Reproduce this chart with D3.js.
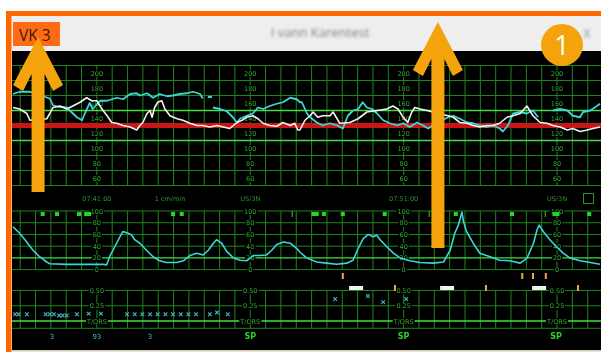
<!DOCTYPE html>
<html>
<head>
<meta charset="utf-8">
<script src="https://cdn.jsdelivr.net/npm/d3@7"></script>
<style>
  body { margin: 0; background: #fff; }
  svg { display: block; }
</style>
</head>
<body>
<svg id="chart" width="601" height="354"></svg>
<script>
// ---- data (time = seconds after 07:41:00) ----
// fetal heart rate, cyan channel (null = gap)
var fhrCyan = [
  [-164,172],[-151,175],[-131,175],[-92,166],[-86,157],[-76,155],[-59,154],[-53,150],[-39,141],[-29,137],
  [-23,147],[-14,160],[-8,152],[6,163],[20,163],[39,167],[51,165],[65,172],[78,173],[84,170],[98,173],
  [110,167],[123,172],[137,169],[149,170],[162,172],[176,173],[188,175],[202,172],[207,166],[210,null],
  [217,168],[225,168],[226,null],
  [227,154],[241,152],[254,149],[266,141],[274,134],[280,139],[293,143],[305,146],[315,154],[325,152],
  [338,156],[352,159],[364,161],[378,167],[391,165],[397,161],[401,161],[411,146],[417,141],[430,134],
  [442,130],[456,133],[470,130],[481,126],[491,143],[501,150],[511,152],[520,161],[528,154],[538,152],
  [548,146],[560,137],[573,133],[587,130],[599,133],[612,128],[626,134],[638,130],[648,126],[667,134],
  [687,141],[697,143],[710,139],[724,134],[736,133],[749,130],[763,128],[775,130],[788,126],[794,122],
  [804,130],[814,146],[828,148],[841,146],[853,150],[863,141],[878,null],
  [892,150],[906,152],[920,150],[931,143],[945,141],[951,148],[965,150],[978,156],[984,159]
];
// fetal heart rate, white channel
var fhrWhite = [
  [-164,154],[-151,152],[-137,146],[-131,137],[-115,138],[-98,139],[-92,146],[-86,154],[-72,156],[-59,152],
  [-47,156],[-33,161],[-20,167],[-10,163],[0,163],[6,156],[12,150],[20,143],[29,134],[39,133],[51,130],
  [65,128],[78,124],[84,130],[90,134],[98,146],[104,150],[108,141],[113,154],[119,161],[127,163],[133,152],
  [143,143],[157,139],[168,137],[182,133],[196,130],[207,130],[221,128],[235,130],[247,128],[260,126],
  [274,134],[284,137],[293,141],[305,143],[315,139],[325,133],[338,130],[352,129],[364,134],[378,130],
  [387,133],[393,124],[397,124],[407,137],[417,143],[423,148],[432,141],[442,143],[456,143],[462,148],
  [475,133],[495,134],[511,139],[528,148],[548,150],[567,152],[579,156],[589,152],[599,141],[608,134],
  [616,148],[622,154],[632,152],[646,150],[667,146],[687,143],[697,141],[710,134],[724,133],[736,130],
  [749,128],[763,130],[775,130],[788,133],[802,141],[814,143],[828,146],[841,156],[853,143],[867,134],
  [880,133],[892,130],[906,128],[920,124],[931,126],[945,122],[959,124],[970,126],[984,128]
];
var baselineBpm = 130;
// uterine activity (toco)
var tocoTrace = [
  [-164,73],[-151,62],[-138,48],[-125,33],[-112,22],[-98,13],[-92,10],[-59,9],[12,9],[19,8],[25,22],
  [35,39],[45,56],[51,65],[61,62],[68,59],[74,51],[84,45],[97,33],[110,22],[123,15],[136,12],[156,12],
  [169,15],[182,24],[195,28],[208,25],[218,33],[228,45],[234,51],[244,45],[254,31],[267,20],[280,16],
  [293,15],[306,24],[319,24],[332,25],[342,33],[352,43],[365,47],[378,45],[391,36],[397,30],[410,20],
  [430,13],[449,11],[469,9],[489,11],[501,16],[511,36],[521,53],[531,60],[541,56],[547,59],[554,51],
  [567,39],[580,28],[593,20],[612,15],[632,12],[658,11],[678,13],[691,33],[700,62],[707,76],[714,98],
  [717,82],[723,65],[736,45],[749,28],[769,22],[788,16],[808,15],[828,11],[841,19],[854,45],[861,68],
  [865,76],[873,65],[886,51],[899,39],[912,28],[925,20],[945,15],[965,12],[984,9]
];
// T/QRS events
var stPoints = [
  [-160,0.11],[-153,0.11],[-137,0.11],[-100,0.11],[-92,0.11],[-84,0.11],[-74,0.09],[-67,0.09],[-59,0.09],
  [-39,0.11],[-16,0.12],[8,0.12],[59,0.11],[74,0.11],[89,0.11],[104,0.11],[119,0.11],[134,0.11],[149,0.11],
  [164,0.11],[179,0.11],[194,0.11],[221,0.11],[235,0.14],[256,0.11],
  [466,0.36],[530,0.41],[560,0.31],[605,0.36]
];
var bottomCodes = [
  {t:-88, text:"3", kind:"st"}, {t:0, text:"93", kind:"st"}, {t:104, text:"3", kind:"st"},
  {t:300, text:"SP", kind:"sp"}, {t:600, text:"SP", kind:"sp"}, {t:898, text:"SP", kind:"sp"}
];
var movementMarks = [-106,-78,-35,149,166,444,481,563,702,812,963];
var movementLong = [-18,427,898];
var movementTicks = [382,650,877];
var eventTicksUpper = [481,832,853,878];
var eventTicksLower = [583,761,941];
var noteBoxes = [507,685,865];

var fhrTicks = [200,180,160,140,120,100,80,60];
var fhrGrid = [50,70,90,110,130,150,170,190,210];
var fhrNormal = [110,150];
var tocoTicks = [100,80,60,40,20,0];
var tocoBright = 20;
var stTicks = [0.5,0.25,0];
var stGrid = [-0.12,0.25,0.5];
var labelTimes = [0,300,600,900];
var timeLabels = [
  {t:0, text:"07:41:00"}, {t:143, text:"1 cm/min"}, {t:300, text:"US/3N"},
  {t:600, text:"07:51:00"}, {t:900, text:"US/3N"}
];
var arrows = [{t:-115, tip:37, bottom:192}, {t:667, tip:22, bottom:248}];

// ---- setup ----
var svg = d3.select("#chart");
var orange = "#ff6600", gold = "#f4a30c";
var gridDim = "#1d861d", gridBright = "#44dc44", labelColor = "#2fae2f";
var cyan = "#3ad6d6";

var x = d3.scaleLinear().domain([-166, 986]).range([12, 601]);
var yFhr = d3.scaleLinear().domain([50, 210]).range([185.5, 65.5]);
var yToco = d3.scaleLinear().domain([0, 100]).range([269.6, 211]);
var ySt = d3.scaleLinear().domain([-0.12, 0.5]).range([328.3, 290.5]);
var gridTimes = d3.range(-150, 961, 30);

var defs = svg.append("defs");
defs.append("filter").attr("id", "blur")
  .append("feGaussianBlur").attr("stdDeviation", 1.8);
defs.append("filter").attr("id", "soft")
  .append("feGaussianBlur").attr("stdDeviation", 0.35);

// window frame
svg.append("rect").attr("x", 12).attr("y", 16).attr("width", 589).attr("height", 35).attr("fill", "#eeeeee");
svg.append("rect").attr("x", 12).attr("y", 51).attr("width", 589).attr("height", 299).attr("fill", "#000");
svg.append("rect").attr("x", 12).attr("y", 350).attr("width", 589).attr("height", 1.5).attr("fill", "#d9cbb5");
svg.append("rect").attr("x", 6).attr("y", 11).attr("width", 595).attr("height", 5).attr("fill", orange);
svg.append("rect").attr("x", 6).attr("y", 11).attr("width", 5.5).attr("height", 341).attr("fill", orange);

svg.append("text").attr("x", 320).attr("y", 37).attr("text-anchor", "middle")
  .attr("font-family", "Open Sans").attr("font-size", 13).attr("fill", "#808080")
  .attr("filter", "url(#blur)").text("I vann Karentest");
svg.append("text").attr("x", 587).attr("y", 38).attr("text-anchor", "middle")
  .attr("font-family", "Open Sans").attr("font-size", 12).attr("fill", "#8a8a8a")
  .attr("filter", "url(#blur)").text("X");

svg.append("rect").attr("x", 13).attr("y", 22).attr("width", 47).attr("height", 24).attr("fill", "#ff6a16");
svg.append("text").attr("x", 19).attr("y", 40.5).attr("font-family", "Open Sans")
  .attr("font-size", 15.5).attr("fill", "#3a1a08").text("VK 3");

var plot = svg.append("g").attr("filter", "url(#soft)");

// ---- grids ----
function vLines(y0, y1) {
  plot.append("g").selectAll("line").data(gridTimes).enter().append("line")
    .attr("x1", function(d) { return x(d); }).attr("x2", function(d) { return x(d); })
    .attr("y1", y0).attr("y2", y1)
    .attr("stroke", gridDim).attr("stroke-width", 1);
}
function hLines(values, scale, bright) {
  plot.append("g").selectAll("line").data(values).enter().append("line")
    .attr("x1", 12).attr("x2", 601)
    .attr("y1", function(d) { return scale(d); }).attr("y2", function(d) { return scale(d); })
    .attr("stroke", function(d) { return bright.indexOf(d) >= 0 ? gridBright : gridDim; })
    .attr("stroke-width", function(d) { return bright.indexOf(d) >= 0 ? 1.4 : 1; });
}

vLines(yFhr(210), yFhr(50));
hLines(fhrGrid, yFhr, fhrNormal);
vLines(yToco(100), yToco(0));
hLines(tocoTicks, yToco, [tocoBright]);
vLines(ySt(0.5), ySt(-0.12));
hLines(stGrid.concat([0]), ySt, [0]);

// scale labels on every 5-minute column, built from d3 axes
function labelColumns(scale, ticks, fmt) {
  labelTimes.forEach(function(t) {
    var col = plot.append("g")
      .attr("transform", "translate(" + x(t) + ",0)")
      .call(d3.axisRight(scale).tickValues(ticks).tickSize(0).tickPadding(0).tickFormat(fmt));
    col.attr("font-size", 6.5).attr("font-family", "DejaVu Sans");
    col.select(".domain").remove();
    col.selectAll(".tick text").attr("x", 0).attr("text-anchor", "middle").attr("fill", labelColor);
    col.selectAll(".tick").each(function() {
      var tk = d3.select(this);
      var w = tk.select("text").node().getComputedTextLength();
      tk.insert("rect", "text").attr("x", -w / 2 - 1).attr("y", -3.5)
        .attr("width", w + 2).attr("height", 7).attr("fill", "#000");
    });
  });
}
labelColumns(yFhr, fhrTicks, d3.format("d"));
labelColumns(yToco, tocoTicks, d3.format("d"));
labelColumns(ySt, stTicks, function(d) { return d === 0 ? "T/QRS" : d3.format(".2f")(d); });

// time row
plot.append("g").selectAll("text").data(timeLabels).enter().append("text")
  .attr("x", function(d) { return x(d.t); }).attr("y", 200.5)
  .attr("text-anchor", "middle").attr("font-family", "DejaVu Sans").attr("font-size", 6.5)
  .attr("fill", "#289628").text(function(d) { return d.text; });
plot.append("rect").attr("x", 583.5).attr("y", 193.5).attr("width", 10).attr("height", 10)
  .attr("fill", "none").attr("stroke", "#2a8f2a");

// ---- FHR ----
plot.append("line").attr("x1", 12).attr("x2", 601)
  .attr("y1", yFhr(baselineBpm)).attr("y2", yFhr(baselineBpm))
  .attr("stroke", "#c81616").attr("stroke-width", 5);

var fhrLine = d3.line()
  .defined(function(d) { return d[1] != null; })
  .x(function(d) { return x(d[0]); })
  .y(function(d) { return yFhr(d[1]); });

plot.append("path").datum(fhrCyan).attr("d", fhrLine)
  .attr("fill", "none").attr("stroke", cyan).attr("stroke-width", 1.8).attr("stroke-linejoin", "round");
plot.append("path").datum(fhrWhite).attr("d", fhrLine)
  .attr("fill", "none").attr("stroke", "#f2f2f2").attr("stroke-width", 1.6).attr("stroke-linejoin", "round");

// ---- TOCO ----
var tocoY = yToco(100) + 3;
plot.append("g").selectAll("rect").data(movementMarks).enter().append("rect")
  .attr("x", function(d) { return x(d) - 2; }).attr("y", tocoY - 2)
  .attr("width", 4).attr("height", 4).attr("fill", "#26d626");
plot.append("g").selectAll("rect").data(movementLong).enter().append("rect")
  .attr("x", function(d) { return x(d) - 3.5; }).attr("y", tocoY - 2)
  .attr("width", 7).attr("height", 4).attr("fill", "#26d626");
plot.append("g").selectAll("rect").data(movementTicks).enter().append("rect")
  .attr("x", function(d) { return x(d) - 0.5; }).attr("y", tocoY - 3)
  .attr("width", 1).attr("height", 6).attr("fill", "#26d626");

var tocoLine = d3.line()
  .x(function(d) { return x(d[0]); })
  .y(function(d) { return yToco(d[1]); });
plot.append("path").datum(tocoTrace).attr("d", tocoLine)
  .attr("fill", "none").attr("stroke", cyan).attr("stroke-width", 1.6).attr("stroke-linejoin", "round");

// event marks between panels
plot.append("g").selectAll("rect").data(eventTicksUpper).enter().append("rect")
  .attr("x", function(d) { return x(d) - 1; }).attr("y", 273)
  .attr("width", 2).attr("height", 6).attr("fill", "#e8a84e");
plot.append("g").selectAll("rect").data(eventTicksLower).enter().append("rect")
  .attr("x", function(d) { return x(d) - 1; }).attr("y", 285)
  .attr("width", 2).attr("height", 6).attr("fill", "#e8a84e");
plot.append("g").selectAll("rect").data(noteBoxes).enter().append("rect")
  .attr("x", function(d) { return x(d) - 7; }).attr("y", 286)
  .attr("width", 14).attr("height", 4).attr("fill", "#f0f0f0");

// ---- T/QRS ----
plot.append("g").selectAll("path").data(stPoints).enter().append("path")
  .attr("d", function(d) {
    var cx = x(d[0]), cy = ySt(d[1]), r = 1.8;
    return "M" + (cx - r) + "," + (cy - r) + "L" + (cx + r) + "," + (cy + r) +
           "M" + (cx - r) + "," + (cy + r) + "L" + (cx + r) + "," + (cy - r);
  })
  .attr("stroke", "#3fb8c8").attr("stroke-width", 1.1).attr("fill", "none");

plot.append("g").selectAll("text").data(bottomCodes).enter().append("text")
  .attr("x", function(d) { return x(d.t); }).attr("y", 339)
  .attr("text-anchor", "middle").attr("font-family", "DejaVu Sans")
  .attr("font-size", function(d) { return d.kind === "sp" ? 8 : 7; })
  .attr("font-weight", function(d) { return d.kind === "sp" ? "bold" : "normal"; })
  .attr("fill", function(d) { return d.kind === "sp" ? "#2fd02f" : "#3fc0c8"; })
  .text(function(d) { return d.text; });

// ---- annotations ----
arrows.forEach(function(a) {
  var cx = x(a.t), t = a.tip, b = a.bottom - a.tip;
  var pts = [[0,0],[25,48],[15,54],[6.5,37],[6.5,b],[-6.5,b],[-6.5,37],[-15,54],[-25,48]];
  svg.append("polygon")
    .attr("points", pts.map(function(p) { return (cx + p[0]) + "," + (t + p[1]); }).join(" "))
    .attr("fill", gold);
});

svg.append("circle").attr("cx", 562).attr("cy", 45).attr("r", 21).attr("fill", gold);
svg.append("text").attr("x", 562).attr("y", 55).attr("text-anchor", "middle")
  .attr("font-family", "Open Sans").attr("font-size", 27).attr("fill", "#fff").text("1");
</script>
</body>
</html>
